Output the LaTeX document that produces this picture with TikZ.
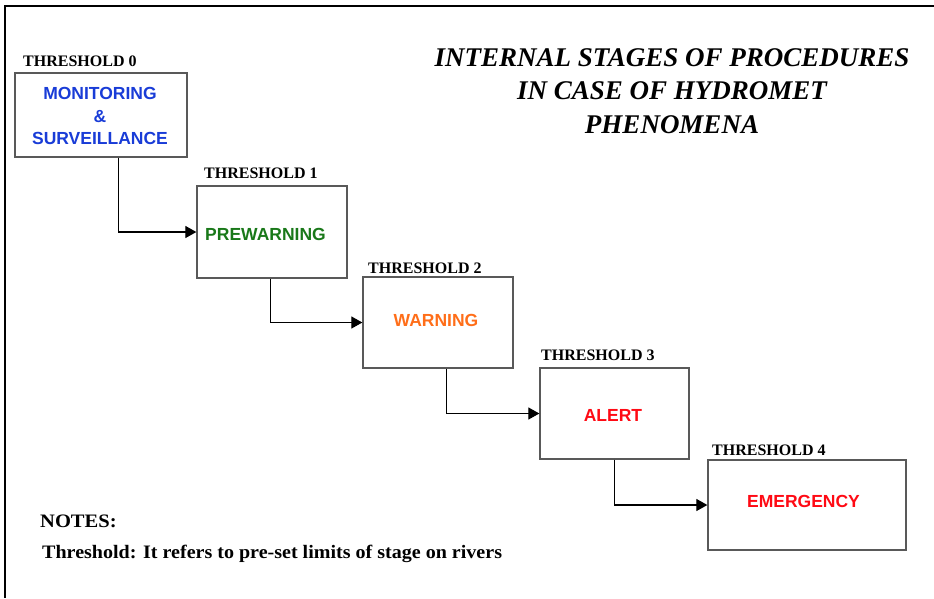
\documentclass[tikz,border=0pt]{standalone}
\usepackage{fontspec}
\setmainfont{Liberation Serif}
\newfontfamily\arialfont{Liberation Sans}
\newfontfamily\notefont[FakeStretch=1.08]{Liberation Serif}
\newfontfamily\notelinefont[FakeStretch=1.055]{Liberation Serif}
\usetikzlibrary{arrows.meta}
\definecolor{monblue}{RGB}{25,60,215}
\definecolor{pregreen}{RGB}{25,120,25}
\definecolor{warnorange}{RGB}{255,110,25}
\definecolor{alertred}{RGB}{255,10,20}
\tikzset{
  stagebox/.style={draw=black!65, line width=1.3pt, rectangle, inner sep=0pt},
  stagetext/.style={font=\arialfont\bfseries\fontsize{17.5}{22.5}\selectfont, align=center, inner sep=0pt},
  thlabel/.style={font=\bfseries\fontsize{16}{18}\selectfont, anchor=base west, inner sep=0pt},
  flow/.style={draw=black, line width=1.2pt, -{Triangle[length=11pt,width=12pt]}},
  titletext/.style={font=\bfseries\itshape\fontsize{27}{33.5}\selectfont, align=center, inner sep=0pt},
  notetext/.style={font=\notefont\bfseries\fontsize{19}{22}\selectfont, anchor=base west, inner sep=0pt}
}
\begin{document}
\begin{tikzpicture}[x=1pt,y=-1pt]
\useasboundingbox (0,0) rectangle (934,598);
% frame
\draw[line width=2pt] (934,6) -- (5,6) -- (5,598);
% title
\node[titletext] (title) at (672,91) {INTERNAL STAGES OF PROCEDURES\\IN CASE OF HYDROMET\\PHENOMENA};
% boxes
\node[stagebox, minimum width=172pt, minimum height=84pt] (b0) at (101,115) {};
\node[stagebox, minimum width=150pt, minimum height=92pt] (b1) at (272,232) {};
\node[stagebox, minimum width=150pt, minimum height=91pt] (b2) at (438,322.5) {};
\node[stagebox, minimum width=149pt, minimum height=91pt] (b3) at (614.5,413.5) {};
\node[stagebox, minimum width=198pt, minimum height=90pt] (b4) at (807,505) {};
% box texts
\node[stagetext, text=monblue] (t0) at (100,116) {MONITORING\\\&\\SURVEILLANCE};
\node[stagetext, text=pregreen] (t1) at (265.5,234.5) {PREWARNING};
\node[stagetext, text=warnorange] (t2) at (436,320) {WARNING};
\node[stagetext, text=alertred] (t3) at (613,415) {ALERT};
\node[stagetext, text=alertred] (t4) at (803.5,501) {EMERGENCY};
% threshold labels
\node[thlabel] (l0) at (23,66.5) {THRESHOLD 0};
\node[thlabel] (l1) at (204,178.5) {THRESHOLD 1};
\node[thlabel] (l2) at (368,273.5) {THRESHOLD 2};
\node[thlabel] (l3) at (541,360.5) {THRESHOLD 3};
\node[thlabel] (l4) at (712,455.5) {THRESHOLD 4};
% connectors
\draw[flow] ([xshift=104pt]b0.south west) |- (b1.west);
\draw[flow] ([xshift=74pt]b1.south west) |- (b2.west);
\draw[flow] ([xshift=84pt]b2.south west) |- (b3.west);
\draw[flow] ([xshift=75pt]b3.south west) |- (b4.west);
% notes
\node[notetext] (n1) at (40,527) {NOTES:};
\node[notetext, font=\notelinefont\bfseries\fontsize{19}{22}\selectfont] (n2) at (42,558.5) {Threshold: It refers to pre-set limits of stage on rivers};
\end{tikzpicture}
\end{document}
